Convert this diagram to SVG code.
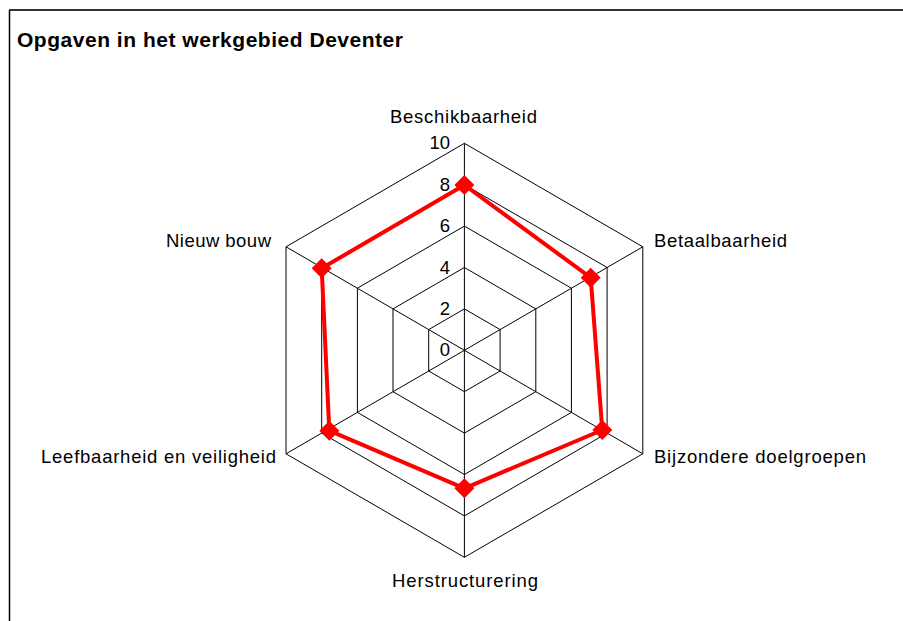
<svg xmlns="http://www.w3.org/2000/svg" width="903" height="621" viewBox="0 0 903 621">
  <style>
    .ttl { font-family: "Liberation Sans", Arial, sans-serif; font-size: 21px; font-weight: bold; fill: #000; }
    .lbl { font-family: "Liberation Sans", Arial, sans-serif; font-size: 18.5px; fill: #000; }
    .num { font-family: "Liberation Sans", Arial, sans-serif; font-size: 18.5px; fill: #000; text-anchor: end; }
    .ring { fill: none; stroke: #000; stroke-width: 1; }
    .spoke { stroke: #000; stroke-width: 1; }
    .series { fill: none; stroke: #ff0000; stroke-width: 4; stroke-linejoin: round; }
    .mk { fill: #ff0000; }
  </style>
  <defs>
    <path id="diamond" d="M0,-10 L10,0 L0,10 L-10,0Z"/>
  </defs>

  <rect x="0" y="0" width="903" height="621" fill="#ffffff"/>

  <!-- chart frame -->
  <g id="frame">
    <line x1="9.5" y1="10" x2="9.5" y2="621" stroke="#000" stroke-width="1.5"/>
    <line x1="9" y1="10" x2="903" y2="10" stroke="#333" stroke-width="2"/>
  </g>

  <g id="title">
    <text class="ttl" x="17" y="47" textLength="386" lengthAdjust="spacing">Opgaven in het werkgebied Deventer</text>
  </g>

  <!-- radar grid: rings at 2, 4, 6, 8, 10 -->
  <g id="grid">
    <polygon class="ring" points="464.4,308.9 500.1,329.6 500.1,371 464.4,391.7 428.7,371 428.7,329.6"/>
    <polygon class="ring" points="464.4,267.5 535.8,308.9 535.8,391.7 464.4,433.1 393,391.7 393,308.9"/>
    <polygon class="ring" points="464.4,226.1 571.4,288.2 571.4,412.4 464.4,474.5 357.4,412.4 357.4,288.2"/>
    <polygon class="ring" points="464.4,184.7 607.1,267.5 607.1,433.1 464.4,515.9 321.7,433.1 321.7,267.5"/>
    <polygon class="ring" points="464.4,143.3 642.8,246.8 642.8,453.8 464.4,557.3 286,453.8 286,246.8"/>
    <line class="spoke" x1="464.4" y1="350.3" x2="464.4" y2="143.3"/>
    <line class="spoke" x1="464.4" y1="350.3" x2="642.8" y2="246.8"/>
    <line class="spoke" x1="464.4" y1="350.3" x2="642.8" y2="453.8"/>
    <line class="spoke" x1="464.4" y1="350.3" x2="464.4" y2="557.3"/>
    <line class="spoke" x1="464.4" y1="350.3" x2="286" y2="453.8"/>
    <line class="spoke" x1="464.4" y1="350.3" x2="286" y2="246.8"/>
  </g>

  <!-- value scale -->
  <g id="scale">
    <text class="num" x="450" y="149">10</text>
    <text class="num" x="450" y="190.5">8</text>
    <text class="num" x="450" y="232">6</text>
    <text class="num" x="450" y="273.5">4</text>
    <text class="num" x="450" y="315">2</text>
    <text class="num" x="450" y="356">0</text>
  </g>

  <!-- axis labels -->
  <g id="axis-beschikbaarheid"><text class="lbl" x="390" y="123" textLength="147" lengthAdjust="spacing">Beschikbaarheid</text></g>
  <g id="axis-betaalbaarheid"><text class="lbl" x="654" y="247" textLength="133" lengthAdjust="spacing">Betaalbaarheid</text></g>
  <g id="axis-bijzondere-doelgroepen"><text class="lbl" x="654" y="462.5" textLength="212" lengthAdjust="spacing">Bijzondere doelgroepen</text></g>
  <g id="axis-herstructurering"><text class="lbl" x="392" y="586.5" textLength="146" lengthAdjust="spacing">Herstructurering</text></g>
  <g id="axis-leefbaarheid"><text class="lbl" x="41" y="463" textLength="235" lengthAdjust="spacing">Leefbaarheid en veiligheid</text></g>
  <g id="axis-nieuw-bouw"><text class="lbl" x="166" y="247" textLength="105" lengthAdjust="spacing">Nieuw bouw</text></g>

  <!-- data series -->
  <g id="series">
    <polygon class="series" points="464.4,185 590.7,277.7 602.3,430 464.4,488.3 329.3,430.7 321.7,268.3"/>
    <use href="#diamond" class="mk" x="464.4" y="185"/>
    <use href="#diamond" class="mk" x="590.7" y="277.7"/>
    <use href="#diamond" class="mk" x="602.3" y="430"/>
    <use href="#diamond" class="mk" x="464.4" y="488.3"/>
    <use href="#diamond" class="mk" x="329.3" y="430.7"/>
    <use href="#diamond" class="mk" x="321.7" y="268.3"/>
  </g>
</svg>
